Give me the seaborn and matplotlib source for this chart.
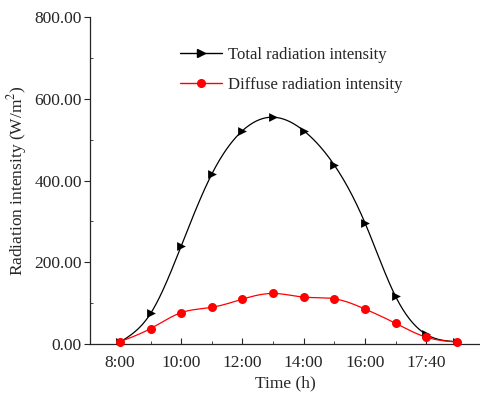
import numpy as np
import pandas as pd
import matplotlib
matplotlib.use("Agg")
import matplotlib.pyplot as plt
import seaborn as sns
from matplotlib.lines import Line2D
from matplotlib.ticker import MultipleLocator

# readings, one per hour slot (the x axis is positional)
time_index = [0, 1, 2, 3, 4, 5, 6, 7, 8, 9, 10, 11]
total_rad = [5, 75, 240, 416, 522, 555, 522, 438, 297, 117, 24, 6]
diffuse_rad = [6, 38, 77, 90, 110, 124, 115, 111, 86, 51, 17, 5]
tick_pos = [0, 2, 4, 6, 8, 10]
tick_labels = ["8:00", "10:00", "12:00", "14:00", "16:00", "17:40"]


def natural_spline(x, y, n=300):
    # plain natural cubic spline, only used to draw the smooth line
    x = np.asarray(x, float)
    y = np.asarray(y, float)
    k = len(x)
    h = np.diff(x)
    A = np.zeros((k, k))
    b = np.zeros(k)
    A[0, 0] = A[-1, -1] = 1
    for i in range(1, k - 1):
        A[i, i - 1] = h[i - 1]
        A[i, i] = 2 * (h[i - 1] + h[i])
        A[i, i + 1] = h[i]
        b[i] = 6 * ((y[i + 1] - y[i]) / h[i] - (y[i] - y[i - 1]) / h[i - 1])
    M = np.linalg.solve(A, b)
    xs = np.linspace(x[0], x[-1], n)
    j = np.clip(np.searchsorted(x, xs) - 1, 0, k - 2)
    t0 = x[j + 1] - xs
    t1 = xs - x[j]
    hj = h[j]
    ys = (M[j] * t0 ** 3 + M[j + 1] * t1 ** 3) / (6 * hj) \
        + (y[j] / hj - M[j] * hj / 6) * t0 + (y[j + 1] / hj - M[j + 1] * hj / 6) * t1
    return xs, ys


sns.set_style("ticks")
plt.rcParams["font.family"] = ["Liberation Serif", "DejaVu Serif"]
plt.rcParams["mathtext.fontset"] = "stix"

fig = plt.figure(figsize=(4.8, 3.96), dpi=100)
ax = fig.add_axes([0.1875, 0.131, 0.8125, 0.826])

df = pd.DataFrame({"t": time_index, "total": total_rad, "diffuse": diffuse_rad})

xs, ys = natural_spline(df["t"], df["total"])
sns.lineplot(x=xs, y=ys, ax=ax, color="black", lw=0.9)
xs2, ys2 = natural_spline(df["t"], df["diffuse"])
sns.lineplot(x=xs2, y=ys2, ax=ax, color="red", lw=0.9)

sns.scatterplot(data=df, x="t", y="total", ax=ax, marker=">", color="black",
                s=40, edgecolor="black", linewidth=0, zorder=3)
sns.scatterplot(data=df, x="t", y="diffuse", ax=ax, marker="o", color="red",
                s=42, edgecolor="red", linewidth=0, zorder=3, clip_on=False)

ax.set_xlim(-0.98, 11.76)
ax.set_ylim(0, 800)
ax.set_xticks(tick_pos)
ax.set_xticklabels(tick_labels)
ax.xaxis.set_minor_locator(MultipleLocator(1))
ax.yaxis.set_major_locator(MultipleLocator(200))
ax.yaxis.set_minor_locator(MultipleLocator(100))
ax.yaxis.set_major_formatter(matplotlib.ticker.FormatStrFormatter("%.2f"))
ax.tick_params(axis="y", which="major", direction="out", length=4, width=0.8, labelsize=12.5, pad=2)
ax.tick_params(axis="y", which="minor", direction="in", length=2, width=0.6)
ax.tick_params(axis="x", which="major", direction="in", length=4, width=0.8, labelsize=12.5, pad=8)
ax.tick_params(axis="x", which="minor", direction="in", length=2, width=0.6)
sns.despine(ax=ax)
for s in ["left", "bottom"]:
    ax.spines[s].set_linewidth(0.9)

ax.set_xlabel("Time (h)", fontsize=12.5, labelpad=3)
ax.set_ylabel("Radiation intensity (W/m$^2$)", fontsize=12.5, labelpad=4)

handles = [
    Line2D([], [], color="black", marker=">", markersize=5.5, lw=1),
    Line2D([], [], color="red", marker="o", markersize=5.5, lw=1),
]
ax.legend(handles, ["Total radiation intensity", "Diffuse radiation intensity"],
          loc="upper left", bbox_to_anchor=(0.192, 0.955), frameon=False,
          fontsize=12, handlelength=2.5, handletextpad=0.4, labelspacing=0.85)

fig.savefig("out.png", dpi=100)
